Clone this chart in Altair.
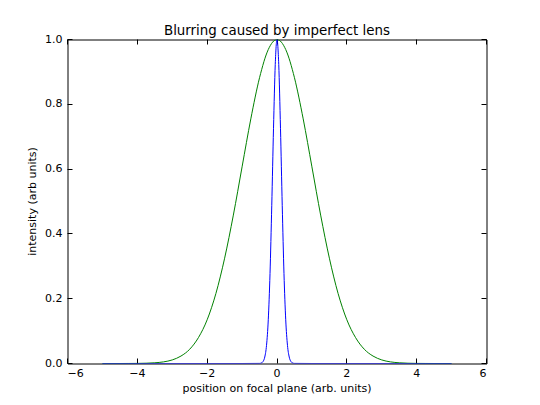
import altair as alt
import pandas as pd

# Values
green_x = [-5.0, -4.75, -4.5, -4.25, -4.0, -3.75, -3.5, -3.25, -3.0, -2.75, -2.5,
           -2.25, -2.0, -1.75, -1.5, -1.25, -1.0, -0.75, -0.5, -0.25, 0.0,
           0.25, 0.5, 0.75, 1.0, 1.25, 1.5, 1.75, 2.0, 2.25, 2.5,
           2.75, 3.0, 3.25, 3.5, 3.75, 4.0, 4.25, 4.5, 4.75, 5.0]
green_y = [0.0, 0.0, 0.0, 0.0001, 0.0003, 0.0009, 0.0022, 0.005, 0.011, 0.023, 0.044,
           0.080, 0.135, 0.216, 0.325, 0.458, 0.607, 0.755, 0.882, 0.969, 1.0,
           0.969, 0.882, 0.755, 0.607, 0.458, 0.325, 0.216, 0.135, 0.080, 0.044,
           0.023, 0.011, 0.005, 0.0022, 0.0009, 0.0003, 0.0001, 0.0, 0.0, 0.0]

blue_x = [-5.0, -1.0, -0.5, -0.45, -0.4, -0.35, -0.3, -0.25, -0.2, -0.15, -0.1, -0.05, 0.0,
          0.05, 0.1, 0.15, 0.2, 0.25, 0.3, 0.35, 0.4, 0.45, 0.5, 1.0, 5.0]
blue_y = [0.0, 0.0, 0.0003, 0.0015, 0.006, 0.020, 0.056, 0.135, 0.278, 0.487, 0.726, 0.923, 1.0,
          0.923, 0.726, 0.487, 0.278, 0.135, 0.056, 0.020, 0.006, 0.0015, 0.0003, 0.0, 0.0]

x_ticks = [-6, -4, -2, 0, 2, 4, 6]
y_ticks = [0.0, 0.2, 0.4, 0.6, 0.8, 1.0]

series_names = ["blurred", "sharp"]
series_colors = ["#008000", "#0000ff"]

df = pd.concat([
    pd.DataFrame({"x": green_x, "y": green_y, "s": series_names[0], "o": range(len(green_x))}),
    pd.DataFrame({"x": blue_x, "y": blue_y, "s": series_names[1], "o": range(len(blue_x))}),
])

FONT = "DejaVu Sans"

tick_axis = dict(
    domain=False, grid=False, tickColor="black", tickWidth=1, tickSize=5, offset=-5,
    translate=0,
    labelFont=FONT, labelFontSize=11, labelColor="black",
    titleFont=FONT, titleFontSize=11, titleFontWeight="normal", titleColor="black",
)

xscale = alt.Scale(domain=[-6, 6], nice=False, zero=False)
yscale = alt.Scale(domain=[0, 1], nice=False, zero=False)

lines = alt.Chart(df).mark_line(strokeWidth=1, interpolate="monotone", clip=True).encode(
    x=alt.X("x:Q", scale=xscale,
            axis=alt.Axis(values=x_ticks, format="d", labelPadding=4, titlePadding=4,
                          title="position on focal plane (arb. units)", orient="bottom",
                          **tick_axis)),
    y=alt.Y("y:Q", scale=yscale,
            axis=alt.Axis(values=y_ticks, format=".1f", labelPadding=5, titlePadding=7,
                          title="intensity (arb units)", orient="left", **tick_axis)),
    color=alt.Color("s:N", scale=alt.Scale(domain=series_names, range=series_colors), legend=None),
    order="o:Q",
)

frame_ticks = alt.Chart(df).mark_line(opacity=0).encode(
    x=alt.X("x:Q", scale=xscale,
            axis=alt.Axis(values=x_ticks, labels=False, title=None, orient="top", **tick_axis)),
    y=alt.Y("y:Q", scale=yscale,
            axis=alt.Axis(values=y_ticks, labels=False, title=None, orient="right", **tick_axis)),
    detail="s:N",
)

chart = alt.layer(lines, frame_ticks).resolve_axis(
    x="independent", y="independent"
).properties(
    width=419, height=324,
    padding={"left": 59.5, "top": 31.5, "right": 45, "bottom": 33},
    autosize=alt.AutoSizeParams(type="none"),
    view=alt.ViewBackground(stroke="#000000", strokeWidth=1, fill="white"),
    title=alt.TitleParams("Blurring caused by imperfect lens", font=FONT, fontSize=13.4,
                          fontWeight="normal", color="black", offset=-4, frame="group"),
).configure(background="white")

chart.save("out.html", embed_options={"renderer": "svg", "actions": False})
